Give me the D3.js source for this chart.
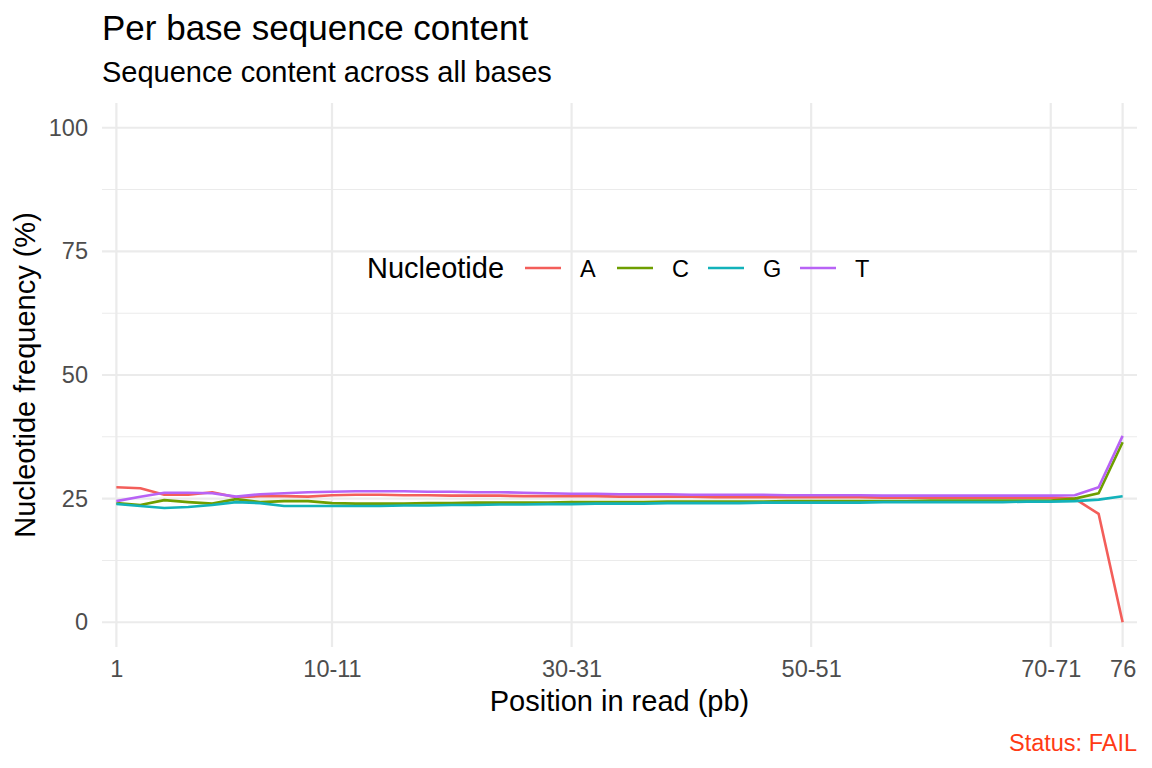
<!DOCTYPE html>
<html>
<head>
<meta charset="utf-8">
<script src="https://cdn.jsdelivr.net/npm/d3@7"></script>
<style>
  body { margin: 0; background: #fff; }
  svg { display: block; font-family: "Liberation Sans", Arial, Helvetica, sans-serif; }
</style>
</head>
<body>
<svg id="chart"></svg>
<script>
// position bins in read
const positions = ['1', '2', '3', '4', '5', '6', '7', '8', '9',
  '10-11', '12-13', '14-15', '16-17', '18-19', '20-21', '22-23', '24-25', '26-27', '28-29',
  '30-31', '32-33', '34-35', '36-37', '38-39', '40-41', '42-43', '44-45', '46-47', '48-49',
  '50-51', '52-53', '54-55', '56-57', '58-59', '60-61', '62-63', '64-65', '66-67', '68-69',
  '70-71', '72-73', '74-75', '76'];

const valuesA = [27.3, 27.1, 25.8, 25.8, 26.3, 25.3, 25.5, 25.5, 25.4, 25.7,
  25.8, 25.8, 25.7, 25.7, 25.6, 25.6, 25.6, 25.5, 25.5, 25.5,
  25.5, 25.4, 25.4, 25.4, 25.4, 25.3, 25.3, 25.3, 25.3, 25.3,
  25.3, 25.3, 25.2, 25.2, 25.2, 25.2, 25.2, 25.2, 25.2, 25.2,
  25.0, 21.9, 0.0];
const valuesC = [24.1, 23.7, 24.7, 24.3, 24.0, 24.9, 24.3, 24.5, 24.5, 24.1,
  24.0, 24.0, 24.0, 24.1, 24.1, 24.2, 24.2, 24.2, 24.2, 24.3,
  24.3, 24.3, 24.3, 24.4, 24.4, 24.4, 24.4, 24.4, 24.5, 24.5,
  24.5, 24.5, 24.5, 24.5, 24.6, 24.6, 24.6, 24.6, 24.6, 24.6,
  25.0, 26.1, 36.4];
const valuesG = [23.9, 23.5, 23.1, 23.3, 23.7, 24.3, 24.1, 23.5, 23.5, 23.5,
  23.5, 23.5, 23.6, 23.6, 23.7, 23.7, 23.8, 23.8, 23.9, 23.9,
  24.0, 24.0, 24.0, 24.1, 24.1, 24.1, 24.1, 24.2, 24.2, 24.2,
  24.2, 24.2, 24.3, 24.3, 24.3, 24.3, 24.3, 24.3, 24.4, 24.4,
  24.5, 24.8, 25.5];
const valuesT = [24.5, 25.4, 26.2, 26.2, 26.1, 25.4, 25.9, 26.1, 26.3, 26.4,
  26.5, 26.5, 26.5, 26.4, 26.4, 26.3, 26.3, 26.2, 26.1, 26.0,
  26.0, 25.9, 25.9, 25.9, 25.8, 25.8, 25.8, 25.8, 25.7, 25.7,
  25.7, 25.7, 25.6, 25.6, 25.6, 25.6, 25.6, 25.6, 25.6, 25.6,
  25.7, 27.3, 37.7];

const nucleotides = ['A', 'C', 'G', 'T'];
const xTickLabels = ['1', '10-11', '30-31', '50-51', '70-71', '76'];
const yTicks = [0, 25, 50, 75, 100];
const yMinorTicks = [12.5, 37.5, 62.5, 87.5];

const series = [valuesA, valuesC, valuesG, valuesT].map((vals, i) => ({
  name: nucleotides[i],
  values: vals.map((v, j) => ({ pos: positions[j], value: v }))
}));

const width = 1152;
const height = 768;
const panel = { left: 102, right: 1137, top: 103, bottom: 647 };

const color = d3.scaleOrdinal()
  .domain(nucleotides)
  .range(['#F35E5A', '#6E9E00', '#13B2BA', '#B863F5']);

const x = d3.scalePoint()
  .domain(positions)
  .range([panel.left, panel.right])
  .padding(0.6);

const y = d3.scaleLinear()
  .domain([-5, 105])
  .range([panel.bottom, panel.top]);

const svg = d3.select('#chart')
  .attr('width', width)
  .attr('height', height);

// grid
const grid = svg.append('g').attr('class', 'grid');

grid.selectAll('line.minor')
  .data(yMinorTicks)
  .enter().append('line')
  .attr('class', 'minor')
  .attr('x1', panel.left).attr('x2', panel.right)
  .attr('y1', d => y(d)).attr('y2', d => y(d))
  .style('stroke', '#EBEBEB')
  .style('stroke-width', 1.1);

grid.selectAll('line.major-y')
  .data(yTicks)
  .enter().append('line')
  .attr('class', 'major-y')
  .attr('x1', panel.left).attr('x2', panel.right)
  .attr('y1', d => y(d)).attr('y2', d => y(d))
  .style('stroke', '#EBEBEB')
  .style('stroke-width', 2.2);

grid.selectAll('line.major-x')
  .data(xTickLabels)
  .enter().append('line')
  .attr('class', 'major-x')
  .attr('x1', d => x(d)).attr('x2', d => x(d))
  .attr('y1', panel.top).attr('y2', panel.bottom)
  .style('stroke', '#EBEBEB')
  .style('stroke-width', 2.2);

// axes
const xAxis = svg.append('g')
  .attr('transform', `translate(0,${panel.bottom})`)
  .call(d3.axisBottom(x).tickValues(xTickLabels).tickSize(0).tickPadding(13));

const yAxis = svg.append('g')
  .attr('transform', `translate(${panel.left},0)`)
  .call(d3.axisLeft(y).tickValues(yTicks).tickSize(0).tickPadding(14));

[xAxis, yAxis].forEach(ax => {
  ax.select('.domain').remove();
  ax.selectAll('text')
    .style('font-family', '"Liberation Sans", Arial, Helvetica, sans-serif')
    .style('font-size', '23.5px')
    .style('fill', '#4D4D4D');
});

// lines
const line = d3.line()
  .x(d => x(d.pos))
  .y(d => y(d.value));

svg.append('g')
  .selectAll('path')
  .data(series)
  .enter().append('path')
  .attr('d', d => line(d.values))
  .style('fill', 'none')
  .style('stroke', d => color(d.name))
  .style('stroke-width', 2.6)
  .style('stroke-linejoin', 'round');

// titles
svg.append('text')
  .attr('x', 102).attr('y', 40)
  .style('font-size', '35px')
  .style('fill', '#000')
  .text('Per base sequence content');

svg.append('text')
  .attr('x', 102).attr('y', 82)
  .style('font-size', '29px')
  .style('fill', '#000')
  .text('Sequence content across all bases');

svg.append('text')
  .attr('x', (panel.left + panel.right) / 2).attr('y', 711)
  .attr('text-anchor', 'middle')
  .style('font-size', '29px')
  .style('fill', '#000')
  .text('Position in read (pb)');

svg.append('text')
  .attr('transform', `translate(35,${(panel.top + panel.bottom) / 2}) rotate(-90)`)
  .attr('text-anchor', 'middle')
  .style('font-size', '29px')
  .style('fill', '#000')
  .text('Nucleotide frequency (%)');

svg.append('text')
  .attr('x', panel.right).attr('y', 751)
  .attr('text-anchor', 'end')
  .style('font-size', '23.5px')
  .style('fill', '#FF3A14')
  .text('Status: FAIL');

// legend
const legend = svg.append('g')
  .attr('class', 'legend-container')
  .attr('transform', 'translate(367,268)');

legend.append('text')
  .attr('x', 0).attr('y', 10)
  .style('font-size', '29px')
  .style('fill', '#000')
  .text('Nucleotide');

const keyStarts = [158, 250, 341, 433];

legend.selectAll('line.key')
  .data(nucleotides)
  .enter().append('line')
  .attr('class', 'key')
  .attr('x1', (d, i) => keyStarts[i])
  .attr('x2', (d, i) => keyStarts[i] + 36)
  .attr('y1', 0).attr('y2', 0)
  .style('stroke', d => color(d))
  .style('stroke-width', 2.6);

legend.selectAll('text.key-label')
  .data(nucleotides)
  .enter().append('text')
  .attr('class', 'key-label')
  .attr('x', (d, i) => keyStarts[i] + 55)
  .attr('y', 8.5)
  .style('font-size', '23.5px')
  .style('fill', '#000')
  .text(d => d);
</script>
</body>
</html>
